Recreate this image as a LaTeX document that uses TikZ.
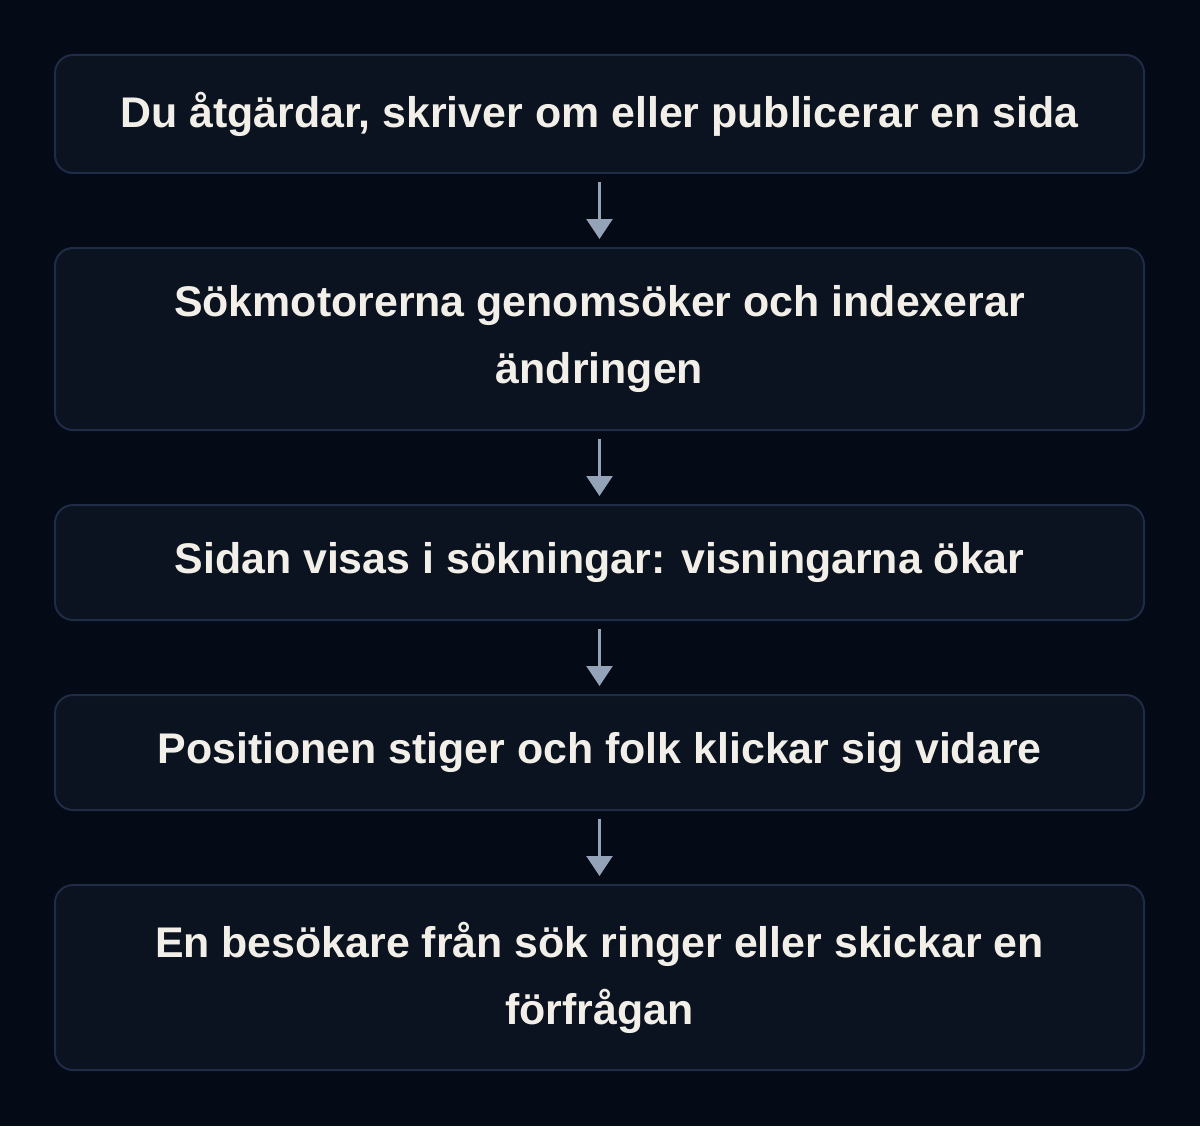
\documentclass[tikz,border=0pt]{standalone}
\usepackage{fontspec}
\setmainfont{Liberation Sans}
\usepackage{xcolor}
\usetikzlibrary{arrows.meta, positioning}
\definecolor{bgcol}{HTML}{050A17}
\definecolor{boxfill}{HTML}{0B1220}
\definecolor{boxline}{HTML}{1F2C45}
\definecolor{arrowcol}{HTML}{94A3B8}
\definecolor{textcol}{HTML}{F1EFE8}

\begin{document}
\begin{tikzpicture}[
        stepbox/.style={rectangle, rounded corners=0.36cm, draw=boxline, line width=0.04cm, fill=boxfill, minimum width=21.78cm, align=center, text=textcol, font=\fontsize{24.4}{38}\selectfont\bfseries},
        arrow/.style={-{Triangle[width=0.52cm, length=0.4cm]}, draw=arrowcol, line width=0.05cm, shorten >=0.16cm, shorten <=0.16cm}
    ]
        % Background
        \fill[bgcol] (0, 0) rectangle (24, -22.52);
        \useasboundingbox (0, 0) rectangle (24, -22.52);

        % Steps
        \node[stepbox, minimum height=2.36cm] (fix) at (11.99, -2.28) {Du åtgärdar, skriver om eller publicerar en sida};
        \node[stepbox, minimum height=3.64cm] (crawl) at (11.99, -6.78) {Sökmotorerna genomsöker och indexerar\\ändringen};
        \node[stepbox, minimum height=2.30cm] (shown) at (11.99, -11.25) {Sidan visas i sökningar: visningarna ökar};
        \node[stepbox, minimum height=2.30cm] (rank) at (11.99, -15.05) {Positionen stiger och folk klickar sig vidare};
        \node[stepbox, minimum height=3.70cm] (lead) at (11.99, -19.55) {En besökare från sök ringer eller skickar en\\förfrågan};

        % Arrows
        \draw[arrow] (fix) -- (crawl);
        \draw[arrow] (crawl) -- (shown);
        \draw[arrow] (shown) -- (rank);
        \draw[arrow] (rank) -- (lead);
    \end{tikzpicture}
\end{document}
